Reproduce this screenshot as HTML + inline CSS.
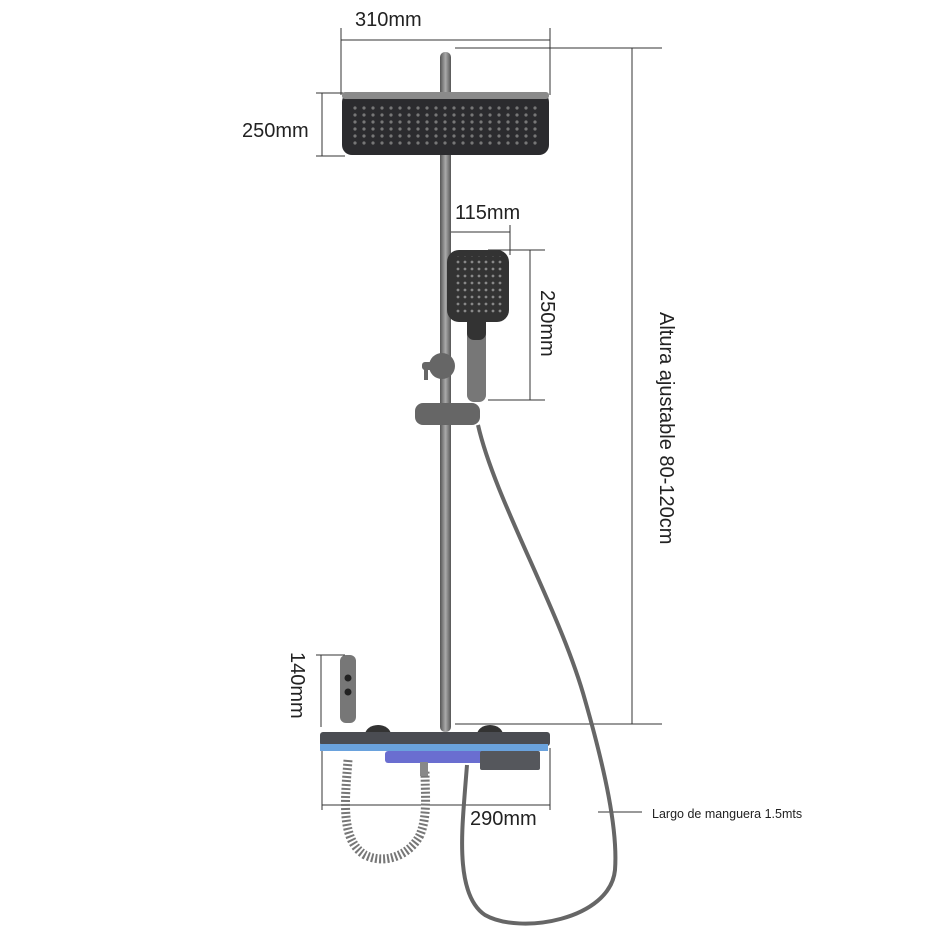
<!DOCTYPE html>
<html><head><meta charset="utf-8"><style>
html,body{margin:0;padding:0;background:#fff;width:945px;height:945px;overflow:hidden}
svg{display:block}
text{font-family:"Liberation Sans",sans-serif;fill:#222}
</style></head><body>
<svg width="945" height="945" viewBox="0 0 945 945" xmlns="http://www.w3.org/2000/svg">
<defs>
<linearGradient id="rod" x1="0" x2="1"><stop offset="0" stop-color="#555"/><stop offset=".5" stop-color="#aaa"/><stop offset="1" stop-color="#555"/></linearGradient>
<pattern id="dots" width="9" height="7" patternUnits="userSpaceOnUse"><circle cx="4" cy="3" r="1.6" fill="#777"/></pattern>
<pattern id="dots2" width="7" height="7" patternUnits="userSpaceOnUse"><circle cx="3" cy="3" r="1.4" fill="#888"/></pattern>
</defs>
<g stroke="#333" stroke-width="1" fill="none">
<line x1="341" y1="40" x2="550" y2="40"/><line x1="341" y1="28" x2="341" y2="95"/><line x1="550" y1="28" x2="550" y2="95"/>
<line x1="322" y1="93" x2="322" y2="156"/><line x1="316" y1="93" x2="345" y2="93"/><line x1="316" y1="156" x2="345" y2="156"/>
<line x1="632" y1="48" x2="632" y2="724"/><line x1="455" y1="48" x2="662" y2="48"/><line x1="455" y1="724" x2="662" y2="724"/>
<line x1="440" y1="232" x2="510" y2="232"/><line x1="510" y1="225" x2="510" y2="255"/>
<line x1="530" y1="250" x2="530" y2="400"/><line x1="488" y1="250" x2="545" y2="250"/><line x1="488" y1="400" x2="545" y2="400"/>
<line x1="321" y1="655" x2="321" y2="727"/><line x1="316" y1="655" x2="345" y2="655"/>
<line x1="322" y1="805" x2="550" y2="805"/><line x1="322" y1="748" x2="322" y2="810"/><line x1="550" y1="748" x2="550" y2="810"/>
<line x1="598" y1="812" x2="642" y2="812"/>
</g>
<!-- hose -->
<path d="M478 425 C 495 500, 560 610, 585 700 C 605 770, 618 830, 615 870 C 610 920, 520 935, 485 915 C 455 895, 462 830, 465 790 L 467 765" stroke="#666" stroke-width="4" fill="none"/>
<!-- coil -->
<path d="M348 760 C 345 800, 340 840, 365 855 C 385 865, 410 855, 420 835 C 428 815, 425 795, 425 770" stroke="#777" stroke-width="9" fill="none" stroke-dasharray="2 2"/>
<!-- main rod -->
<rect x="440" y="52" width="11" height="680" rx="5" fill="url(#rod)"/>
<!-- head -->
<rect x="342" y="92" width="207" height="63" rx="10" fill="#2b2b2e"/>
<rect x="342" y="92" width="207" height="7" rx="3" fill="#8a8a8a"/>
<rect x="352" y="103" width="187" height="45" fill="url(#dots)"/>
<!-- hand shower -->
<rect x="467" y="312" width="19" height="90" rx="7" fill="#777"/>
<rect x="467" y="312" width="19" height="28" rx="7" fill="#333"/>
<rect x="447" y="250" width="62" height="72" rx="12" fill="#333"/>
<rect x="453" y="256" width="50" height="58" fill="url(#dots2)"/>
<!-- wall holder -->
<circle cx="442" cy="366" r="13" fill="#666"/>
<rect x="422" y="362" width="14" height="8" rx="3" fill="#666"/>
<rect x="424" y="368" width="4" height="12" fill="#666"/>
<!-- slider -->
<rect x="415" y="403" width="65" height="22" rx="8" fill="#666"/>
<!-- bidet -->
<rect x="340" y="655" width="16" height="68" rx="6" fill="#777"/>
<circle cx="348" cy="678" r="3.5" fill="#222"/><circle cx="348" cy="692" r="3.5" fill="#222"/>
<!-- knobs -->
<ellipse cx="378" cy="735" rx="13" ry="10" fill="#333"/>
<ellipse cx="490" cy="735" rx="13" ry="10" fill="#333"/>
<!-- shelf -->
<rect x="320" y="732" width="230" height="14" rx="3" fill="#4a4c52"/>
<rect x="320" y="744" width="228" height="7" fill="#6aa2dd"/>
<rect x="385" y="751" width="145" height="12" rx="3" fill="#6a6ed0"/>
<rect x="480" y="751" width="60" height="19" rx="2" fill="#55575c"/>
<rect x="420" y="762" width="8" height="14" fill="#888"/>
<text x="355" y="26" font-size="20">310mm</text>
<text x="242" y="137" font-size="20">250mm</text>
<text x="455" y="219" font-size="20">115mm</text>
<text x="470" y="825" font-size="20">290mm</text>
<text x="652" y="818" font-size="12.5">Largo de manguera 1.5mts</text>
<text transform="translate(660,312) rotate(90)" font-size="20">Altura ajustable 80-120cm</text>
<text transform="translate(541,290) rotate(90)" font-size="20">250mm</text>
<text transform="translate(291,652) rotate(90)" font-size="20">140mm</text>
</svg>
</body></html>
